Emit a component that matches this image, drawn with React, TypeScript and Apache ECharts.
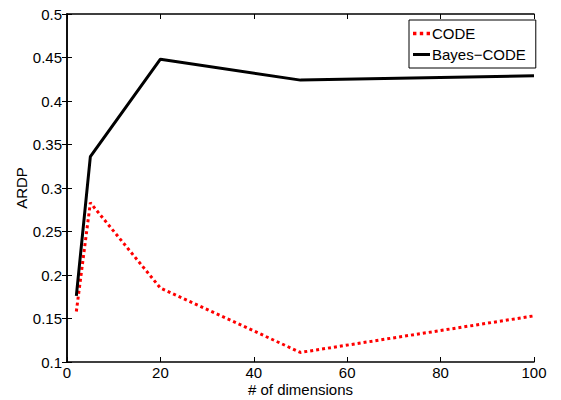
import React, { useEffect, useRef } from "react";
import * as echarts from "echarts";

const dims = [2, 5, 20, 50, 100];
const codeValues = [0.158, 0.283, 0.185, 0.111, 0.153];
const bayesValues = [0.176, 0.336, 0.448, 0.424, 0.429];
const seriesNames = ["CODE", "Bayes\u2212CODE"];

const FONT = "Liberation Sans, Arial, Helvetica, sans-serif";

export default function App() {
  const ref = useRef<HTMLDivElement>(null);
  useEffect(() => {
    if (!ref.current) return;
    const chart = echarts.init(ref.current, null, { renderer: "svg" });
    const tick = { show: true, inside: true, length: 5, lineStyle: { color: "#000", width: 1 } };
    const line = { show: true, lineStyle: { color: "#000", width: 1.5 } };
    chart.setOption({
      animation: false,
      backgroundColor: "#fff",
      textStyle: { fontFamily: FONT },
      grid: { left: 67, right: 27, top: 14, bottom: 38, containLabel: false, outerBoundsMode: "none" },
      legend: {
        show: true,
        orient: "vertical",
        left: 409,
        top: 20,
        backgroundColor: "#fff",
        borderColor: "#000",
        borderWidth: 1,
        borderRadius: 0,
        padding: [6, 10, 6, 4],
        itemGap: 6,
        itemWidth: 17,
        itemHeight: 14,
        textStyle: { fontSize: 15, color: "#000", fontFamily: FONT, padding: [0, 0, 0, -3] },
        data: [
          { name: seriesNames[0], icon: "path://M0,0h3v3h-3zM6,0h3v3h-3zM12,0h3v3h-3z" },
          { name: seriesNames[1], icon: "path://M0,0h17v3h-17z" },
        ],
      },
      xAxis: [
        {
          type: "value",
          min: 0,
          max: 100,
          interval: 20,
          position: "bottom",
          name: "# of dimensions",
          nameLocation: "middle",
          nameGap: 20,
          nameMoveOverlap: false,
          nameTextStyle: { fontSize: 15, color: "#000", fontFamily: FONT },
          axisLine: line,
          axisTick: tick,
          axisLabel: { fontSize: 15, color: "#000", margin: 3, fontFamily: FONT },
          splitLine: { show: false },
        },
        {
          type: "value",
          min: 0,
          max: 100,
          interval: 20,
          position: "top",
          axisLine: line,
          axisTick: tick,
          axisLabel: { show: false },
          splitLine: { show: false },
        },
      ],
      yAxis: [
        {
          type: "value",
          min: 0.1,
          max: 0.5,
          interval: 0.05,
          position: "left",
          name: "ARDP",
          nameLocation: "middle",
          nameGap: 38,
          nameMoveOverlap: false,
          nameTextStyle: { fontSize: 15, color: "#000", fontFamily: FONT },
          axisLine: line,
          axisTick: tick,
          axisLabel: { fontSize: 15, color: "#000", margin: 5, fontFamily: FONT },
          splitLine: { show: false },
        },
        {
          type: "value",
          min: 0.1,
          max: 0.5,
          interval: 0.05,
          position: "right",
          axisLine: line,
          axisTick: tick,
          axisLabel: { show: false },
          splitLine: { show: false },
        },
      ],
      series: [
        {
          name: seriesNames[0],
          type: "line",
          xAxisIndex: 0,
          yAxisIndex: 0,
          data: dims.map((d, i) => [d, codeValues[i]]),
          symbol: "none",
          showSymbol: false,
          itemStyle: { color: "#ff0000" },
          lineStyle: { color: "#ff0000", width: 3, type: [3, 3] },
        },
        {
          name: seriesNames[1],
          type: "line",
          xAxisIndex: 0,
          yAxisIndex: 0,
          data: dims.map((d, i) => [d, bayesValues[i]]),
          symbol: "none",
          showSymbol: false,
          itemStyle: { color: "#000" },
          lineStyle: { color: "#000", width: 3, type: "solid" },
        },
      ],
    });
    return () => chart.dispose();
  }, []);
  return <div ref={ref} style={{ width: 561, height: 400, position: "absolute", left: 0, top: 0 }} />;
}
